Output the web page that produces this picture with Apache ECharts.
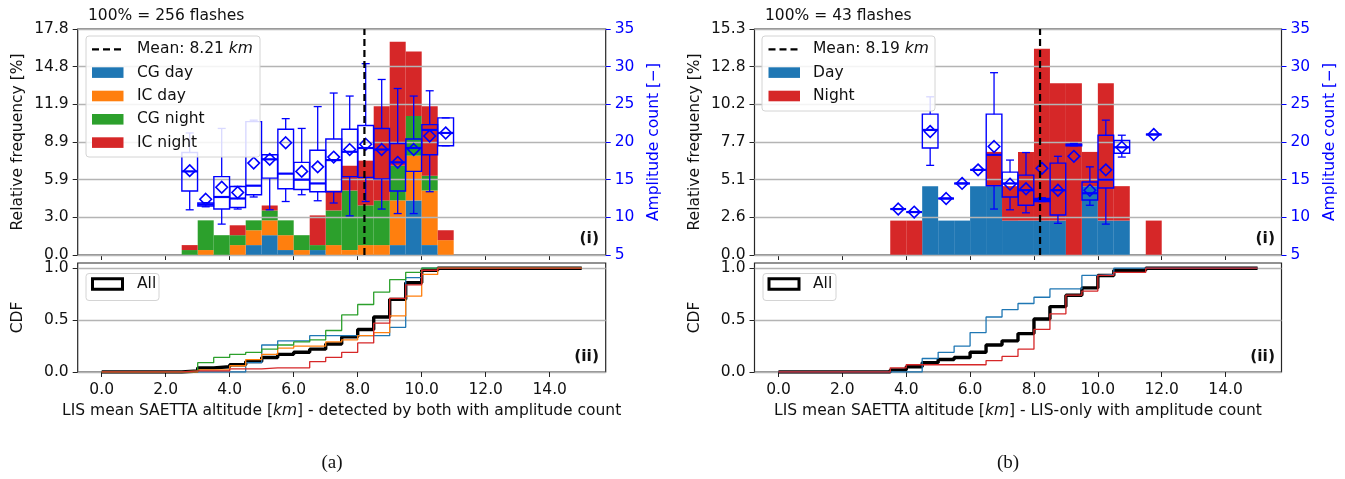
<!DOCTYPE html>
<html><head><meta charset="utf-8">
<script src="https://cdn.jsdelivr.net/npm/echarts@6/dist/echarts.min.js"></script>
<style>html,body{margin:0;padding:0;background:#fff}#c{width:1345px;height:479px}</style>
</head><body><div id="c"></div>
<script>
// ---------------- DATA ----------------
// Panel (a): bin starts [km], bin width 0.5 km, relative frequency [%]
const binStartsA = [2.5,3.0,3.5,4.0,4.5,5.0,5.5,6.0,6.5,7.0,7.5,8.0,8.5,9.0,9.5,10.0,10.5];
const cgDayA   = [0,0,0,0,0.78,1.56,0.39,0,0.39,0,0,0,0,0.78,4.30,0.78,0];
const icDayA   = [0,0.39,0,0.78,1.17,1.17,1.17,0.39,0,0.78,0.39,0.78,0.78,3.52,3.52,4.30,1.17];
const cgNightA = [0.39,2.34,1.56,0.78,0.78,0.78,1.17,1.17,0.39,2.73,4.69,3.13,3.52,2.73,3.13,1.17,0];
const icNightA = [0.39,0,0,0.78,0,0.39,0,0,2.34,1.56,1.95,3.52,7.42,9.77,5.08,5.47,0.78];
const meanA = 8.21;
// Panel (a) amplitude-count boxes
const boxPosA  = [2.75,3.25,3.75,4.25,4.75,5.25,5.75,6.25,6.75,7.25,7.75,8.25,8.75,9.25,9.75,10.25,10.75];
const boxLoA   = [11.0,11.4,9.1,11.1,12.7,11.0,12.1,13.0,12.2,11.9,10.2,12.1,11.1,10.5,10.5,13.4,19.5];
const boxQ1A   = [13.5,11.5,11.1,11.3,13.0,15.2,13.8,13.7,13.4,13.4,15.4,15.3,15.1,13.5,16.1,18.3,19.5];
const boxMedA  = [16.1,11.7,12.7,12.5,14.2,17.7,15.8,15.0,14.5,17.6,18.7,19.2,19.0,17.3,19.2,21.6,21.2];
const boxQ3A   = [18.6,11.9,15.4,14.1,22.7,18.3,21.7,17.3,18.9,20.4,21.7,22.2,21.8,19.8,20.4,22.3,23.2];
const boxHiA   = [21.2,11.95,21.8,14.1,22.9,18.3,23.1,21.8,24.7,26.5,26.1,30.4,28.3,27.1,26.1,26.8,23.2];
const boxMeanA = [16.2,12.4,14.0,13.3,17.2,17.7,19.9,16.1,16.7,18.0,19.0,19.7,19.0,17.3,19.0,20.8,21.2];

// Panel (b)
const binStartsB = [3.5,4.0,4.5,5.0,5.5,6.0,6.5,7.0,7.5,8.0,8.5,9.0,9.5,10.0,10.5,11.0,11.5];
const dayB   = [0,0,4.65,2.33,2.33,4.65,4.65,2.33,2.33,2.33,2.33,0,4.65,2.33,2.33,0,0];
const nightB = [2.33,2.33,0,0,0,0,2.33,2.33,4.65,11.63,9.30,11.63,2.33,9.30,2.33,0,2.33];
const meanB = 8.19;
const boxPosB  = [3.75,4.25,4.75,5.25,5.75,6.25,6.75,7.25,7.75,8.25,8.75,9.25,9.75,10.25,10.75,11.75];
const boxLoB   = [11.1,10.7,16.9,12.5,14.5,16.3,11.1,11.0,10.6,12.1,9.2,19.5,11.6,9.1,18.0,21.0];
const boxQ1B   = [11.1,10.7,19.2,12.5,14.5,16.3,14.2,12.7,11.6,12.1,10.3,19.5,12.3,13.9,18.5,21.0];
const boxMedB  = [11.1,10.7,21.6,12.5,14.5,16.3,18.3,14.5,13.6,12.3,13.6,19.6,13.2,15.0,19.3,21.0];
const boxQ3B   = [11.1,10.7,23.7,12.5,14.5,16.3,23.7,16.0,15.6,12.5,17.2,19.7,14.7,20.9,20.2,21.0];
const boxHiB   = [11.1,10.7,26.0,12.5,14.5,16.3,29.2,17.6,18.6,12.6,18.1,19.8,16.7,22.9,20.9,21.0];
const boxMeanB = [11.1,10.7,21.4,12.5,14.5,16.3,19.4,14.4,13.8,16.5,13.6,18.1,13.6,16.3,19.3,21.0];

// CDF step values for bins starting at 0,0.5,...,14.5 (line ends at 15 km)
const cdfEdges = [0,0.5,1,1.5,2,2.5,3,3.5,4,4.5,5,5.5,6,6.5,7,7.5,8,8.5,9,9.5,10,10.5,11,11.5,12,12.5,13,13.5,14,14.5,15];
const cdfAllA     = [0,0,0,0,0,0.01,0.04,0.05,0.07,0.10,0.14,0.17,0.19,0.22,0.27,0.34,0.41,0.53,0.70,0.86,0.98,1,1,1,1,1,1,1,1,1];
const cdfCgDayA   = [0,0,0,0,0,0,0,0,0,0.09,0.26,0.30,0.30,0.35,0.35,0.35,0.35,0.35,0.43,0.91,1,1,1,1,1,1,1,1,1,1];
const cdfIcDayA   = [0,0,0,0,0,0,0.02,0.02,0.06,0.12,0.17,0.23,0.25,0.25,0.29,0.31,0.35,0.38,0.54,0.73,0.94,1,1,1,1,1,1,1,1,1];
const cdfCgNightA = [0,0,0,0,0,0.01,0.09,0.14,0.17,0.19,0.22,0.26,0.29,0.31,0.40,0.55,0.65,0.77,0.89,0.96,1,1,1,1,1,1,1,1,1,1];
const cdfIcNightA = [0,0,0,0,0,0.01,0.01,0.01,0.03,0.03,0.04,0.04,0.04,0.10,0.14,0.19,0.28,0.47,0.71,0.84,0.98,1,1,1,1,1,1,1,1,1];
const cdfAllB   = [0,0,0,0,0,0,0,0.02,0.05,0.09,0.12,0.14,0.19,0.26,0.30,0.37,0.51,0.63,0.74,0.81,0.93,0.98,0.98,1,1,1,1,1,1,1];
const cdfDayB   = [0,0,0,0,0,0,0,0,0,0.13,0.19,0.25,0.38,0.53,0.60,0.66,0.72,0.80,0.80,0.93,0.94,1,1,1,1,1,1,1,1,1];
const cdfNightB = [0,0,0,0,0,0,0,0.04,0.07,0.07,0.07,0.07,0.07,0.11,0.15,0.22,0.41,0.56,0.74,0.78,0.93,0.96,0.96,1,1,1,1,1,1,1];

// Tick labels
const xTickVals = [0,2,4,6,8,10,12,14];
const xTickLabels = ['0.0','2.0','4.0','6.0','8.0','10.0','12.0','14.0'];
const freqTicksA = ['0.0','3.0','5.9','8.9','11.9','14.8','17.8'];
const freqMaxA = 17.8;
const freqTicksB = ['0.0','2.6','5.1','7.7','10.2','12.8','15.3'];
const freqMaxB = 15.3;
const ampMin = 5, ampMax = 35, ampStep = 5;
const cdfTickVals = [0, 0.5, 1.0];
const cdfTickLabels = ['0.0','0.5','1.0'];

// ---------------- STYLE ----------------
const FONT = 'DejaVu Sans';
const FS = 15.5;
const BLUE = '#0000ff';
const C_CGDAY = '#1f77b4', C_ICDAY = '#ff7f0e', C_CGNIGHT = '#2ca02c', C_ICNIGHT = '#d62728';
const BIN_W = 0.5, BOX_HW = 0.245, CAP_HW = 0.125;
const GRIDS = [
  {left: 77.7, top: 29, width: 528, height: 226},
  {left: 77.7, top: 263, width: 528, height: 109},
  {left: 754.5, top: 29, width: 527, height: 226},
  {left: 754.5, top: 263, width: 527, height: 109}
];

function stackData(starts, stacks) {
  const out = stacks.map(() => []);
  starts.forEach((s, i) => {
    let base = 0;
    stacks.forEach((arr, k) => {
      const v = arr[i];
      if (v > 0) out[k].push([s, s + BIN_W, base, base + v]);
      base += v;
    });
  });
  return out;
}
function renderBar(params, api) {
  const p0 = api.coord([api.value(0), api.value(3)]);
  const p1 = api.coord([api.value(1), api.value(2)]);
  return {type: 'rect', shape: {x: p0[0], y: p0[1], width: p1[0] - p0[0], height: p1[1] - p0[1]},
          style: {fill: api.visual('color')}};
}
function renderBox(params, api) {
  const x = api.value(0);
  const lo = api.value(1), q1 = api.value(2), md = api.value(3), q3 = api.value(4), hi = api.value(5), mn = api.value(6);
  const c = (xx, yy) => api.coord([xx, yy]);
  const xc = c(x, md)[0];
  const xl = c(x - BOX_HW, md)[0], xr = c(x + BOX_HW, md)[0];
  const cl = c(x - CAP_HW, md)[0], cr = c(x + CAP_HW, md)[0];
  const yLo = c(x, lo)[1], yQ1 = c(x, q1)[1], yMd = c(x, md)[1], yQ3 = c(x, q3)[1], yHi = c(x, hi)[1], yMn = c(x, mn)[1];
  const ln = (x1, y1, x2, y2, w) => ({type: 'line', shape: {x1, y1, x2, y2}, style: {stroke: BLUE, lineWidth: w || 1.3}});
  const d = 5.8;
  return {type: 'group', children: [
    ln(xc, yQ1, xc, yLo), ln(xc, yQ3, xc, yHi), ln(cl, yLo, cr, yLo), ln(cl, yHi, cr, yHi),
    {type: 'rect', shape: {x: xl, y: yQ3, width: xr - xl, height: yQ1 - yQ3}, style: {stroke: BLUE, fill: 'none', lineWidth: 1.4}},
    ln(xl, yMd, xr, yMd, 2.2),
    {type: 'polygon', shape: {points: [[xc, yMn - d], [xc + d, yMn], [xc, yMn + d], [xc - d, yMn]]},
     style: {stroke: BLUE, fill: 'none', lineWidth: 1.6}}
  ]};
}
function renderMean(params, api) {
  const p0 = api.coord([api.value(0), api.value(1)]);
  const p1 = api.coord([api.value(0), api.value(2)]);
  return {type: 'line', shape: {x1: p0[0], y1: p0[1], x2: p1[0], y2: p1[1]},
          style: {stroke: '#000', lineWidth: 2.2, lineDash: [7, 4]}};
}
function boxRows(pos, lo, q1, md, q3, hi, mn) {
  return pos.map((p, i) => [p, lo[i], q1[i], md[i], q3[i], hi[i], mn[i]]);
}
function cdfLine(vals) {
  const pts = vals.map((v, i) => [cdfEdges[i], v]);
  pts.push([cdfEdges[cdfEdges.length - 1], vals[vals.length - 1]]);
  return pts;
}

const textBase = {fontFamily: FONT, fontSize: FS, color: '#111'};
function xAxisCfg(gi, withLabels, nameText) {
  return {
    gridIndex: gi, type: 'value', min: -0.75, max: 15.75,
    axisLine: {show: false, onZero: false},
    axisTick: {show: true, length: 5, customValues: xTickVals, lineStyle: {color: '#222', width: 1}},
    axisLabel: {show: withLabels, customValues: xTickVals, margin: 10, ...textBase,
      formatter: v => xTickLabels[xTickVals.indexOf(Math.round(v))] },
    splitLine: {show: false},
    name: nameText || '', nameLocation: 'middle', nameGap: 31,
    nameTextStyle: {...textBase, rich: {i: {fontFamily: FONT, fontSize: FS, fontStyle: 'italic', color: '#111'}}}
  };
}
function freqAxisCfg(gi, maxV, labels) {
  const n = labels.length - 1;
  const vals = labels.map((l, i) => (i === n ? maxV : maxV * i / n));
  return {
    gridIndex: gi, type: 'value', min: 0, max: maxV, position: 'left',
    axisLine: {show: false, onZero: false},
    axisTick: {show: true, length: 5, customValues: vals, lineStyle: {color: '#222'}},
    axisLabel: {customValues: vals, margin: 9, ...textBase, showMaxLabel: true,
      formatter: v => labels[Math.round(v / maxV * n)]},
    splitLine: {show: false},
    name: 'Relative frequency [%]', nameLocation: 'middle', nameGap: 52, nameTextStyle: {...textBase}
  };
}
function ampAxisCfg(gi) {
  return {
    gridIndex: gi, type: 'value', min: ampMin, max: ampMax, interval: ampStep, position: 'right', z: 3,
    axisLine: {show: false, onZero: false},
    axisTick: {show: true, length: 5, lineStyle: {color: BLUE}},
    axisLabel: {margin: 9, ...textBase, color: BLUE},
    splitLine: {show: true, lineStyle: {color: '#b4b4b4', width: 1.3}},
    name: 'Amplitude count [\u2212]', nameLocation: 'middle', nameGap: 40, nameRotate: 90,
    nameTextStyle: {...textBase, color: BLUE}
  };
}
function cdfAxisCfg(gi) {
  return {
    gridIndex: gi, type: 'value', min: 0, max: 1.05, interval: 0.5,
    axisLine: {show: false, onZero: false},
    axisTick: {show: true, length: 5, customValues: cdfTickVals, lineStyle: {color: '#222'}},
    axisLabel: {customValues: cdfTickVals, margin: 9, ...textBase,
      formatter: v => cdfTickLabels[Math.round(v * 2)]},
    splitLine: {show: true, lineStyle: {color: '#b4b4b4', width: 1.3}},
    name: 'CDF', nameLocation: 'middle', nameGap: 52, nameTextStyle: {...textBase}
  };
}

const barsA = stackData(binStartsA, [cgDayA, icDayA, cgNightA, icNightA]);
const barsB = stackData(binStartsB, [dayB, nightB]);
const colorsA = [C_CGDAY, C_ICDAY, C_CGNIGHT, C_ICNIGHT];
const colorsB = [C_CGDAY, C_ICNIGHT];

const series = [];
barsA.forEach((d, k) => series.push({type: 'custom', xAxisIndex: 0, yAxisIndex: 0, renderItem: renderBar,
  itemStyle: {color: colorsA[k]}, data: d, encode: {x: [0, 1], y: [2, 3]}, z: 2, silent: true}));
series.push({type: 'custom', xAxisIndex: 0, yAxisIndex: 1, renderItem: renderBox, z: 5, silent: true,
  data: boxRows(boxPosA, boxLoA, boxQ1A, boxMedA, boxQ3A, boxHiA, boxMeanA), encode: {x: 0, y: [1, 5]}});
series.push({type: 'custom', xAxisIndex: 0, yAxisIndex: 0, renderItem: renderMean, z: 6, silent: true,
  data: [[meanA, 0, freqMaxA]], encode: {x: 0, y: [1, 2]}});
barsB.forEach((d, k) => series.push({type: 'custom', xAxisIndex: 2, yAxisIndex: 3, renderItem: renderBar,
  itemStyle: {color: colorsB[k]}, data: d, encode: {x: [0, 1], y: [2, 3]}, z: 2, silent: true}));
series.push({type: 'custom', xAxisIndex: 2, yAxisIndex: 4, renderItem: renderBox, z: 5, silent: true,
  data: boxRows(boxPosB, boxLoB, boxQ1B, boxMedB, boxQ3B, boxHiB, boxMeanB), encode: {x: 0, y: [1, 5]}});
series.push({type: 'custom', xAxisIndex: 2, yAxisIndex: 3, renderItem: renderMean, z: 6, silent: true,
  data: [[meanB, 0, freqMaxB]], encode: {x: 0, y: [1, 2]}});

function cdfSeries(xi, yi, vals, color, w, z) {
  return {type: 'line', xAxisIndex: xi, yAxisIndex: yi, step: 'end', showSymbol: false, symbol: 'none',
    data: cdfLine(vals), lineStyle: {color, width: w}, z, silent: true, animation: false};
}
series.push(cdfSeries(1, 2, cdfAllA, '#000', 3.4, 2));
series.push(cdfSeries(1, 2, cdfCgDayA, C_CGDAY, 1.3, 3));
series.push(cdfSeries(1, 2, cdfIcDayA, C_ICDAY, 1.3, 3));
series.push(cdfSeries(1, 2, cdfCgNightA, C_CGNIGHT, 1.3, 3));
series.push(cdfSeries(1, 2, cdfIcNightA, C_ICNIGHT, 1.3, 3));
series.push(cdfSeries(3, 5, cdfAllB, '#000', 3.4, 2));
series.push(cdfSeries(3, 5, cdfDayB, C_CGDAY, 1.3, 3));
series.push(cdfSeries(3, 5, cdfNightB, C_ICNIGHT, 1.3, 3));

// ---------------- GRAPHIC (legends, annotations) ----------------
const graphic = [];
function txt(x, y, text, opts) {
  graphic.push({type: 'text', x, y, z: 100, silent: true,
    style: Object.assign({text, fontFamily: FONT, fontSize: FS, fill: '#111', align: 'left', verticalAlign: 'middle'}, opts || {})});
}
function legendBox(x, y, w, h) {
  graphic.push({type: 'rect', z: 90, silent: true, shape: {x, y, width: w, height: h, r: 3},
    style: {fill: 'rgba(255,255,255,0.85)', stroke: '#d4d4d4', lineWidth: 1}});
}
function patch(x, cy, color) {
  graphic.push({type: 'rect', z: 95, silent: true, shape: {x, y: cy - 5.3, width: 31.5, height: 10.6}, style: {fill: color}});
}
function dashLeg(x, cy) {
  graphic.push({type: 'line', z: 95, silent: true, shape: {x1: x, y1: cy, x2: x + 31.5, y2: cy},
    style: {stroke: '#000', lineWidth: 2.2, lineDash: [7, 4]}});
}
function richMean(x, cy, label) {
  graphic.push({type: 'text', x, y: cy, z: 100, silent: true, style: {
    text: '{n|' + label + ' }{i|km}', verticalAlign: 'middle', align: 'left',
    rich: {n: {fontFamily: FONT, fontSize: FS, fill: '#111'}, i: {fontFamily: FONT, fontSize: FS, fontStyle: 'italic', fill: '#111'}}}});
}
// Panel (a) top legend
legendBox(86, 36, 174, 121);
const rowsA = [49.3, 72.6, 96.0, 119.3, 142.6];
dashLeg(92, rowsA[0]); richMean(137, rowsA[0], 'Mean: ' + meanA.toFixed(2));
['CG day', 'IC day', 'CG night', 'IC night'].forEach((t, i) => { patch(92, rowsA[i + 1], colorsA[i]); txt(137, rowsA[i + 1], t); });
// Panel (b) top legend
legendBox(762, 36, 173, 75);
dashLeg(768.5, rowsA[0]); richMean(813, rowsA[0], 'Mean: ' + meanB.toFixed(2));
['Day', 'Night'].forEach((t, i) => { patch(768.5, rowsA[i + 1], colorsB[i]); txt(813, rowsA[i + 1], t); });
// CDF legends
[[86, 92.5, 137], [763, 769, 813]].forEach(([bx, px, tx]) => {
  legendBox(bx, 273.5, 73, 27);
  graphic.push({type: 'rect', z: 95, silent: true, shape: {x: px, y: 278.8, width: 30, height: 10.5},
    style: {fill: 'none', stroke: '#000', lineWidth: 3}});
  txt(tx, 284, 'All');
});
// Titles and panel markers
txt(88, 16, '100% = 256 flashes');
txt(765, 16, '100% = 43 flashes');
txt(599, 239, '(i)', {align: 'right', fontWeight: 'bold'});
txt(1275, 239, '(i)', {align: 'right', fontWeight: 'bold'});
txt(599, 357, '(ii)', {align: 'right', fontWeight: 'bold'});
txt(1275, 357, '(ii)', {align: 'right', fontWeight: 'bold'});
txt(332, 463, '(a)', {align: 'center', fontFamily: 'Liberation Serif', fontSize: 19});
txt(1008, 463, '(b)', {align: 'center', fontFamily: 'Liberation Serif', fontSize: 19});

const chart = echarts.init(document.getElementById('c'), null, {renderer: 'canvas'});
chart.setOption({
  animation: false,
  backgroundColor: '#fff',
  grid: GRIDS.map(g => Object.assign({show: true, borderColor: '#262626', borderWidth: 1.2, backgroundColor: 'transparent'}, g)),
  xAxis: [
    xAxisCfg(0, false),
    xAxisCfg(1, true, 'LIS mean SAETTA altitude [{i|km}] - detected by both with amplitude count'),
    xAxisCfg(2, false),
    xAxisCfg(3, true, 'LIS mean SAETTA altitude [{i|km}] - LIS-only with amplitude count')
  ],
  yAxis: [
    freqAxisCfg(0, freqMaxA, freqTicksA),
    ampAxisCfg(0),
    cdfAxisCfg(1),
    freqAxisCfg(2, freqMaxB, freqTicksB),
    ampAxisCfg(2),
    cdfAxisCfg(3)
  ],
  series,
  graphic
});
</script></body></html>
